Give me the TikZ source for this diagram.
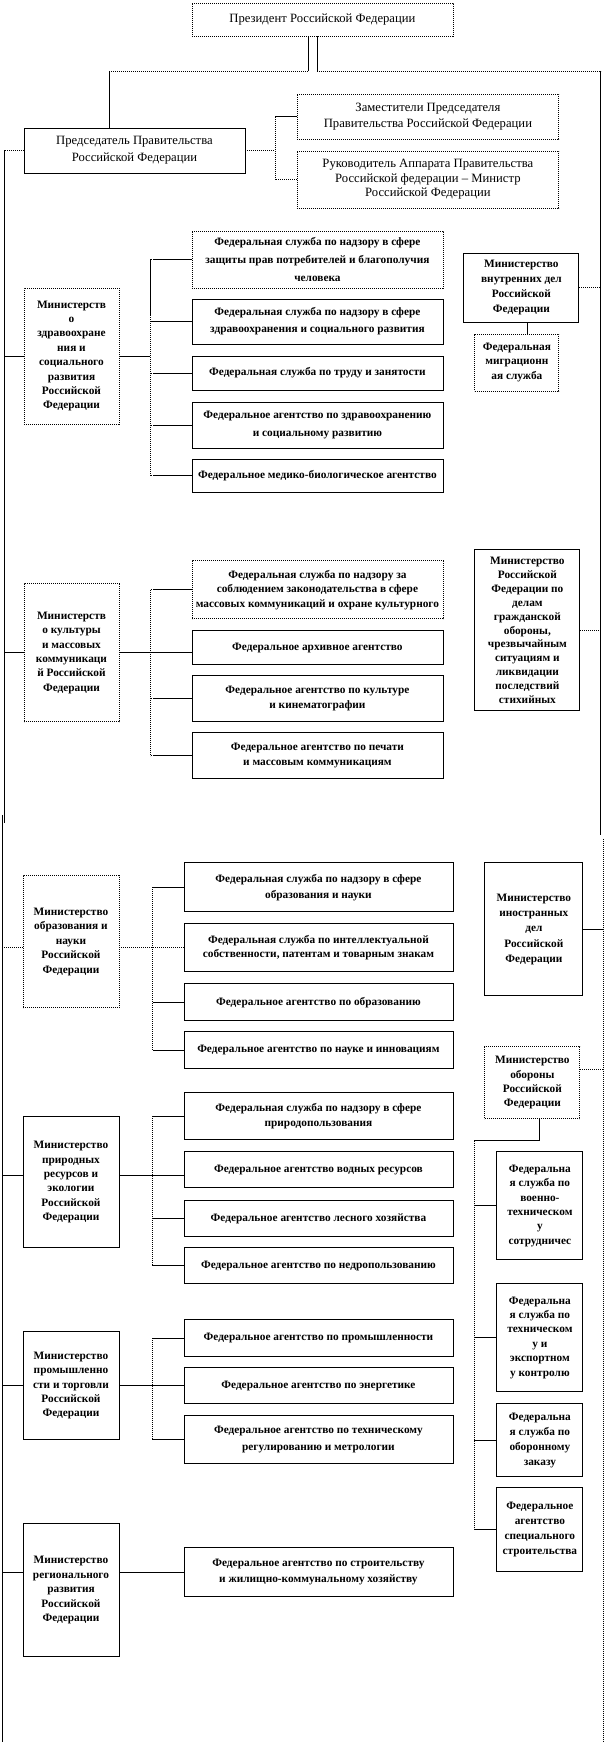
\documentclass[tikz,border=0pt]{standalone}
\usepackage{fontspec}
\setmainfont{Liberation Serif}
\newcommand\qqb[1]{\fontsize{8.5}{#1}\selectfont\bfseries}
\newcommand\qqr[1]{\fontsize{9.5}{#1}\selectfont}
\newcommand{\mybox}[7][]{%
  \pgfmathsetmacro{\qqbw}{(#5-#3)*0.75}%
  \pgfmathsetmacro{\qqbh}{(#6-#4)*0.75}%
  \node[bx,#1,minimum width=\qqbw pt,minimum height=\qqbh pt] (#2) at ({(#3+#5)/2},{(#4+#6)/2}) {#7};}
\begin{document}
\begin{tikzpicture}[x=0.75pt,y=-0.75pt,
  bx/.style={draw, line width=0.6pt, inner sep=0pt, align=center, fill=white, font={\qqb{10.8}}},
  dbx/.style={dash pattern=on 0.8pt off 0.7pt},
  ln/.style={line width=0.6pt},
  dl/.style={line width=0.6pt, dash pattern=on 0.8pt off 0.7pt}]
\fill[white] (0,0) rectangle (605,1742);
% ---- boxes ----
\mybox[dbx,font={\qqr{13}}]{pres}{192}{3}{453}{36}{Президент Российской Федерации}
\mybox[font={\qqr{13}}]{chair}{24}{128}{245}{173}{Председатель Правительства\\Российской Федерации}
\mybox[dbx,font={\qqr{11.8}}]{dep}{297}{94}{559}{139}{Заместители Председателя\\Правительства Российской Федерации}
\mybox[dbx,font={\qqr{10.8}}]{head}{297}{151}{559}{208}{Руководитель Аппарата Правительства\\Российской федерации – Министр\\Российской Федерации}
% health
\mybox[dbx]{hm}{24}{288}{119}{424}{Министерств\\о\\здравоохране\\ния и\\социального\\развития\\Российской\\Федерации}
\mybox[dbx,font={\qqb{13.5}}]{h1}{192}{231}{443}{288}{Федеральная служба по надзору в сфере\\защиты прав потребителей и благополучия\\человека}
\mybox[font={\qqb{13}}]{h2}{192}{299}{443}{344}{Федеральная служба по надзору в сфере\\здравоохранения и социального развития}
\mybox{h3}{192}{356}{443}{390}{Федеральная служба по труду и занятости}
\mybox[font={\qqb{13}}]{h4}{192}{402}{443}{448}{Федеральное агентство по здравоохранению\\и социальному развитию}
\mybox{h5}{192}{459}{443}{493}{Федеральное медико-биологическое агентство}
\mybox[font={\qqb{11.3}}]{mvd}{464}{253}{579}{322}{Министерство\\внутренних дел\\Российской\\Федерации}
\mybox[dbx,font={\qqb{11}}]{mig}{475}{334}{559}{391}{Федеральная\\миграционн\\ая служба}
% culture
\mybox[dbx]{cm}{24}{584}{119}{722}{Министерств\\о культуры\\и массовых\\коммуникаци\\й Российской\\Федерации}
\mybox[dbx]{c1}{192}{561}{443}{619}{Федеральная служба по надзору за\\соблюдением законодательства в сфере\\массовых коммуникаций и охране культурного}
\mybox{c2}{192}{631}{443}{665}{Федеральное архивное агентство}
\mybox[font={\qqb{11.3}}]{c3}{192}{676}{443}{722}{Федеральное агентство по культуре\\и кинематографии}
\mybox[font={\qqb{11.3}}]{c4}{192}{733}{443}{779}{Федеральное агентство по печати\\и массовым коммуникациям}
\mybox[font={\qqb{10.4}}]{mchs}{475}{550}{580}{711}{Министерство\\Российской\\Федерации по\\делам\\гражданской\\обороны,\\чрезвычайным\\ситуациям и\\ликвидации\\последствий\\стихийных}
% education
\mybox[dbx]{em}{23}{876}{119}{1008}{Министерство\\образования и\\науки\\Российской\\Федерации}
\mybox[font={\qqb{12}}]{e1}{184}{863}{453}{912}{Федеральная служба по надзору в сфере\\образования и науки}
\mybox{e2}{184}{924}{453}{972}{Федеральная служба по интеллектуальной\\собственности, патентам и товарным знакам}
\mybox{e3}{184}{984}{453}{1021}{Федеральное агентство по образованию}
\mybox{e4}{184}{1032}{453}{1069}{Федеральное агентство по науке и инновациям}
\mybox[font={\qqb{11.5}}]{mid}{485}{863}{583}{996}{Министерство\\иностранных\\дел\\Российской\\Федерации}
\mybox[dbx]{def}{485}{1047}{580}{1119}{Министерство\\обороны\\Российской\\Федерации}
% nature
\mybox{nm}{23}{1117}{119}{1248}{Министерство\\природных\\ресурсов и\\экологии\\Российской\\Федерации}
\mybox{n1}{184}{1093}{453}{1140}{Федеральная служба по надзору в сфере\\природопользования}
\mybox{n2}{184}{1152}{453}{1188}{Федеральное агентство водных ресурсов}
\mybox{n3}{184}{1201}{453}{1237}{Федеральное агентство лесного хозяйства}
\mybox{n4}{184}{1248}{453}{1284}{Федеральное агентство по недропользованию}
% defense subordinate
\mybox{d1}{497}{1152}{583}{1260}{Федеральна\\я служба по\\военно-\\техническом\\у\\сотрудничес}
\mybox{d2}{497}{1284}{583}{1392}{Федеральна\\я служба по\\техническом\\у и\\экспортном\\у контролю}
\mybox[font={\qqb{11.3}}]{d3}{497}{1404}{583}{1477}{Федеральна\\я служба по\\оборонному\\заказу}
\mybox[font={\qqb{11.3}}]{d4}{497}{1488}{583}{1572}{Федеральное\\агентство\\специального\\строительства}
% industry
\mybox{im}{23}{1332}{119}{1440}{Министерство\\промышленно\\сти и торговли\\Российской\\Федерации}
\mybox{i1}{184}{1320}{453}{1357}{Федеральное агентство по промышленности}
\mybox{i2}{184}{1368}{453}{1404}{Федеральное агентство по энергетике}
\mybox[font={\qqb{12.5}}]{i3}{184}{1416}{453}{1464}{Федеральное агентство по техническому\\регулированию и метрологии}
% regional
\mybox{rm}{23}{1524}{119}{1657}{Министерство\\регионального\\развития\\Российской\\Федерации}
\mybox[font={\qqb{12.5}}]{r1}{184}{1548}{453}{1597}{Федеральное агентство по строительству\\и жилищно-коммунальному хозяйству}
% ---- helper coordinates ----
\coordinate (Lx) at (4,0);
\coordinate (Lbrk) at (4,823);
\coordinate (Lx2) at (2,0);
\coordinate (L2t) at (2,815);
\coordinate (Lbot) at (2,1742);
\coordinate (tl) at (308,71);
\coordinate (tr) at (317,71);
\coordinate (cx) at (109,71);
\coordinate (R1t) at (601,71);
\coordinate (R1) at (601,835);
\coordinate (R2t) at (604,839);
\coordinate (R2b) at (604,1742);
\coordinate (cs) at (275,0);
\coordinate (mx) at (527.5,0);
\coordinate (hs) at (150,0);
\coordinate (es) at (152,0);
\coordinate (dx) at (539.5,0);
\coordinate (dsp) at (474.6,1141);
\path ([yshift=9.75pt]def.east) coordinate (defr);
\path ([yshift=4.9pt]nm.west) coordinate (nmw) ([yshift=4.9pt]nm.east) coordinate (nme);
% ---- top connectors ----
\draw[ln] (tl |- pres.south) -- (tl);
\draw[ln] (tr |- pres.south) -- (tr);
\draw[dl] (tl) -- (cx);
\draw[dl] (tr) -- (R1t);
\draw[ln] (cx) -- (cx |- chair.north);
\draw[ln] (R1t) -- (R1);
\draw[dl] (R2t) -- (R2b);
\draw[dl] (chair.west) -- (chair.west -| Lx);
\draw[ln] (chair.west -| Lx) -- (Lbrk);
\draw[ln] (L2t) -- (Lbot);
\draw[dl] (chair.east) -- (chair.east -| cs);
\draw[dl] (dep.west) -| (cs |- head.west) -- (head.west);
\draw[dl] (mvd.east) -- (mvd.east -| R1);
\draw[ln] (mx |- mvd.south) -- (mx |- mig.north);
\draw[dl] (mchs.east) -- (mchs.east -| R1);
\draw[ln] (mid.east) -- (mid.east -| R2t);
\draw[dl] (defr) -- (defr -| R2t);
% health
\draw[ln] (hm.west) -- (hm.west -| Lx);
\draw[ln] (hm.east) -- (hm.east -| hs);
\draw[dl] (hs |- h1.west) -- (hs |- h5.west);
\draw[ln] (h2.west) -- (h2.west -| hs);
\foreach \n in {h1,h3,h4,h5} \draw[dl] (\n.west) -- (\n.west -| hs);
% culture
\draw[ln] (cm.west) -- (cm.west -| Lx);
\draw[ln] (cm.east) -- (cm.east -| c2.west);
\draw[dl] (hs |- c1.west) -- (hs |- c4.west);
\foreach \n in {c1,c3,c4} \draw[dl] (\n.west) -- (\n.west -| hs);
% education
\draw[dl] (Lx2 |- e2.west) -- (em.west |- e2.west);
\draw[dl] (em.east |- e2.west) -- (e2.west);
\draw[dl] (es |- e1.west) -- (es |- e4.west);
\foreach \n in {e1,e3,e4} \draw[dl] (\n.west) -- (\n.west -| es);
% nature
\draw[ln] (nmw) -- (nmw -| Lx2);
\draw[ln] (nme) -- (nme -| n2.west);
\draw[dl] (es |- n1.west) -- (es |- n4.west);
\foreach \n in {n1,n3,n4} \draw[ln] (\n.west) -- (\n.west -| es);
% defense
\draw[ln] (dx |- def.south) |- (dsp);
\draw[dl] (dsp) -- (dsp |- d4.west);
\foreach \n in {d1,d2,d3,d4} \draw[ln] (\n.west) -- (\n.west -| dsp);
% industry
\draw[ln] (im.west) -- (im.west -| Lx2);
\draw[ln] (im.east) -- (im.east -| i2.west);
\draw[dl] (es |- i1.west) -- (es |- i3.west);
\foreach \n in {i1,i3} \draw[ln] (\n.west) -- (\n.west -| es);
% regional
\draw[ln] (Lx2 |- r1.west) -- (rm.west |- r1.west);
\draw[ln] (rm.east |- r1.west) -- (r1.west);
\end{tikzpicture}
\end{document}
